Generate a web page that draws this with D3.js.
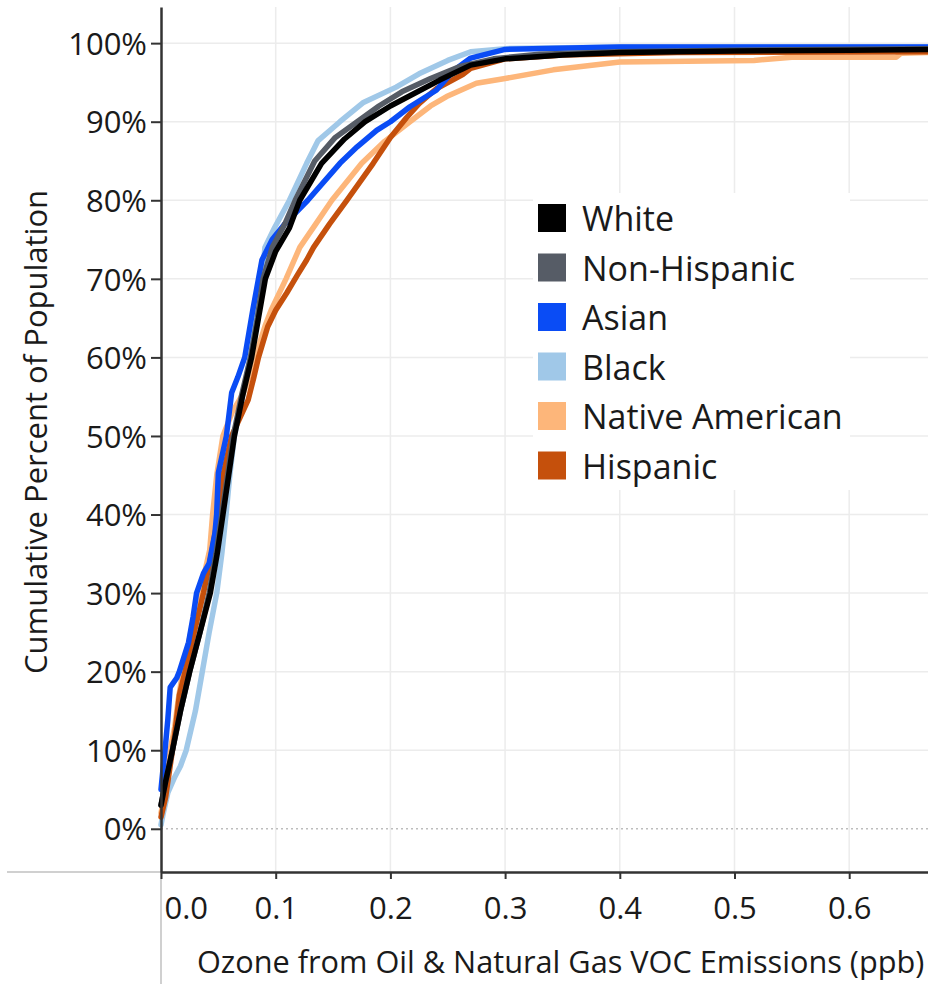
<!DOCTYPE html>
<html>
<head>
<meta charset="utf-8">
<script src="https://cdn.jsdelivr.net/npm/d3@7"></script>
<style>
    body { margin: 0; background: #fff; }
    svg { display: block; }
    text { font-family: "Open Sans", sans-serif; fill: #1a1a1a; }
</style>
</head>
<body>
<div id="chart"></div>
<script>
var width = 928;
var height = 984;
var margin = { top: 7, right: 0, bottom: 112, left: 161 };

// legend order and colours
var groups = ['White', 'Non-Hispanic', 'Asian', 'Black', 'Native American', 'Hispanic'];
var groupColors = ['#000000', '#565c66', '#0a4cf5', '#a0c8e8', '#fdb67a', '#c5500c'];
// order the lines are painted in (last on top)
var drawOrder = ['Black', 'Native American', 'Hispanic', 'Asian', 'Non-Hispanic', 'White'];

var xTicks = [0, 0.1, 0.2, 0.3, 0.4, 0.5, 0.6];
var yTicks = [0, 10, 20, 30, 40, 50, 60, 70, 80, 90, 100];

// [ozone ppb, cumulative percent]
var white = [[0, 3], [0.004, 6], [0.010, 10], [0.017, 15], [0.025, 20], [0.034, 25], [0.043, 30], [0.049, 35],
    [0.054, 40], [0.059, 45], [0.064, 50], [0.071, 55], [0.079, 60], [0.085, 65], [0.091, 70], [0.100, 73.5],
    [0.112, 76.5], [0.121, 80], [0.140, 84.7], [0.160, 87.8], [0.178, 90], [0.200, 92], [0.217, 93.3],
    [0.243, 95.3], [0.270, 97.2], [0.300, 98.0], [0.350, 98.5], [0.400, 98.8], [0.500, 99.0], [0.600, 99.1], [0.669, 99.2]];
var nonHispanic = [[0, 3], [0.004, 6], [0.010, 10], [0.017, 15], [0.025, 20], [0.034, 25], [0.042, 30], [0.048, 35],
    [0.053, 40], [0.058, 45], [0.063, 50], [0.070, 55], [0.078, 60], [0.084, 65], [0.089, 70], [0.097, 74],
    [0.108, 77], [0.117, 80], [0.134, 85], [0.152, 88], [0.171, 90], [0.190, 92], [0.210, 93.8], [0.235, 95.5],
    [0.260, 97.0], [0.290, 98.0], [0.330, 98.6], [0.400, 98.9], [0.500, 99.1], [0.669, 99.3]];
var asian = [[0, 5], [0.002, 8], [0.0035, 10], [0.006, 14], [0.008, 18], [0.0137, 19.2], [0.016, 20], [0.024, 23.7],
    [0.028, 27], [0.031, 30], [0.037, 32.5], [0.042, 33.8], [0.047, 37.6], [0.0485, 40], [0.050, 45.3], [0.057, 50],
    [0.0616, 55.5], [0.067, 57.5], [0.073, 60], [0.080, 66], [0.085, 70], [0.088, 72.4], [0.097, 75], [0.108, 77],
    [0.128, 80], [0.156, 84.7], [0.171, 86.8], [0.188, 88.9], [0.200, 90], [0.217, 91.9], [0.240, 94], [0.255, 96.5],
    [0.270, 98.1], [0.300, 99.2], [0.400, 99.5], [0.669, 99.5]];
var black = [[0, 0.5], [0.002, 2], [0.006, 4.6], [0.012, 6.6], [0.017, 8], [0.022, 10], [0.030, 15], [0.036, 20],
    [0.042, 25], [0.0486, 30], [0.053, 35], [0.0567, 40], [0.060, 45], [0.064, 50], [0.071, 55], [0.078, 60],
    [0.083, 65], [0.088, 70], [0.0906, 74], [0.099, 76.5], [0.112, 80], [0.127, 84.7], [0.137, 87.6], [0.156, 90],
    [0.176, 92.4], [0.205, 94.4], [0.225, 96.1], [0.250, 97.8], [0.270, 98.9], [0.300, 99.3], [0.400, 99.5], [0.669, 99.5]];
var nativeAmerican = [[0, 2], [0.004, 5], [0.008, 10], [0.012, 13], [0.015, 16.4], [0.019, 20], [0.026, 25], [0.034, 30],
    [0.0425, 35.5], [0.045, 40], [0.0486, 45], [0.054, 50], [0.062, 53], [0.072, 55.5], [0.082, 60], [0.0907, 64],
    [0.096, 66], [0.109, 70], [0.121, 74], [0.135, 77], [0.149, 80], [0.175, 84.7], [0.195, 87.5], [0.217, 90],
    [0.235, 92], [0.249, 93.2], [0.275, 94.9], [0.300, 95.5], [0.342, 96.6], [0.400, 97.6], [0.517, 97.8],
    [0.550, 98.2], [0.641, 98.2], [0.645, 98.7], [0.669, 98.8]];
var hispanic = [[0, 1.5], [0.004, 4], [0.008, 8], [0.012, 12], [0.016, 17], [0.021, 20], [0.029, 25], [0.037, 30],
    [0.044, 35], [0.050, 40], [0.054, 45], [0.0616, 50], [0.076, 54.6], [0.081, 57.5], [0.085, 60], [0.093, 63.9],
    [0.100, 66], [0.1096, 68.2], [0.119, 70.5], [0.127, 72.4], [0.133, 74], [0.147, 77], [0.162, 80], [0.185, 84.7],
    [0.200, 88], [0.214, 90.5], [0.225, 92.3], [0.240, 94.2], [0.263, 96], [0.270, 96.8], [0.300, 98], [0.350, 98.5],
    [0.450, 98.8], [0.669, 98.9]];

var seriesByGroup = {
    'White': white,
    'Non-Hispanic': nonHispanic,
    'Asian': asian,
    'Black': black,
    'Native American': nativeAmerican,
    'Hispanic': hispanic
};

var color = d3.scaleOrdinal().domain(groups).range(groupColors);

var x = d3.scaleLinear()
    .domain([0, 0.6687])
    .range([margin.left, width - margin.right]);
var y = d3.scaleLinear()
    .domain([-5.5, 104.6])
    .range([height - margin.bottom, margin.top]);

var svg = d3.select('#chart')
    .append('svg')
    .attr('width', width)
    .attr('height', height);

var plotBottom = height - margin.bottom;

// grid
svg.append('g')
    .selectAll('line')
    .data(yTicks.filter(function (d) { return d > 0; }))
    .join('line')
    .attr('x1', margin.left)
    .attr('x2', width)
    .attr('y1', function (d) { return y(d); })
    .attr('y2', function (d) { return y(d); })
    .attr('stroke', '#ececec')
    .attr('stroke-width', 1.5);

svg.append('g')
    .selectAll('line')
    .data(xTicks.filter(function (d) { return d > 0; }))
    .join('line')
    .attr('x1', function (d) { return x(d); })
    .attr('x2', function (d) { return x(d); })
    .attr('y1', margin.top)
    .attr('y2', plotBottom)
    .attr('stroke', '#ececec')
    .attr('stroke-width', 1.5);

// dotted zero line
svg.append('line')
    .attr('x1', margin.left)
    .attr('x2', width)
    .attr('y1', y(0))
    .attr('y2', y(0))
    .attr('stroke', '#bdbdbd')
    .attr('stroke-width', 1.5)
    .attr('stroke-dasharray', '2,3');

// light extensions of the axes outside the plot
svg.append('line')
    .attr('x1', 7).attr('x2', margin.left)
    .attr('y1', plotBottom).attr('y2', plotBottom)
    .attr('stroke', '#d0d0d0').attr('stroke-width', 2);
svg.append('line')
    .attr('x1', margin.left).attr('x2', margin.left)
    .attr('y1', plotBottom).attr('y2', height)
    .attr('stroke', '#d0d0d0').attr('stroke-width', 2);

// legend background (hides the grid)
var legendX = 538;
var legendY = 204;
var legendStep = 49.5;
svg.append('rect')
    .attr('x', legendX - 5)
    .attr('y', legendY - 11)
    .attr('width', 317)
    .attr('height', legendStep * groups.length)
    .attr('fill', '#fff');

// lines
var line = d3.line()
    .x(function (d) { return x(d[0]); })
    .y(function (d) { return y(d[1]); });

svg.append('g')
    .selectAll('path')
    .data(drawOrder)
    .join('path')
    .attr('d', function (g) { return line(seriesByGroup[g]); })
    .attr('fill', 'none')
    .attr('stroke', function (g) { return color(g); })
    .attr('stroke-width', 5.5)
    .attr('stroke-linejoin', 'round')
    .attr('stroke-linecap', 'round');

// axes
var yAxis = svg.append('g')
    .attr('transform', 'translate(' + margin.left + ',0)')
    .call(d3.axisLeft(y)
        .tickValues(yTicks)
        .tickFormat(function (d) { return d + '%'; })
        .tickSize(10)
        .tickSizeOuter(0)
        .tickPadding(4));

var xAxis = svg.append('g')
    .attr('transform', 'translate(0,' + plotBottom + ')')
    .call(d3.axisBottom(x)
        .tickValues(xTicks)
        .tickFormat(d3.format('.1f'))
        .tickSize(7)
        .tickSizeOuter(0)
        .tickPadding(18));

[yAxis, xAxis].forEach(function (ax) {
    ax.select('.domain').attr('stroke', '#333').attr('stroke-width', 2.5);
    ax.selectAll('.tick line').attr('stroke', '#333').attr('stroke-width', 2);
    ax.selectAll('.tick text')
        .style('font-family', '"Open Sans", sans-serif')
        .style('font-size', '31px')
        .attr('fill', '#1a1a1a');
});
yAxis.selectAll('.tick text').attr('dy', '0.36em');
// first x label sits to the right of the axis
xAxis.selectAll('.tick text')
    .filter(function (d) { return d === 0; })
    .attr('text-anchor', 'start')
    .attr('x', 3);

// axis titles
svg.append('text')
    .attr('x', 197)
    .attr('y', 973)
    .style('font-size', '30.7px')
    .text('Ozone from Oil & Natural Gas VOC Emissions (ppb)');

svg.append('text')
    .attr('transform', 'translate(47,432) rotate(-90)')
    .attr('text-anchor', 'middle')
    .style('font-size', '31px')
    .text('Cumulative Percent of Population');

// legend
var legend = svg.append('g')
    .selectAll('g')
    .data(groups)
    .join('g')
    .attr('transform', function (d, i) { return 'translate(' + legendX + ',' + (legendY + i * legendStep) + ')'; });

legend.append('rect')
    .attr('width', 28)
    .attr('height', 28)
    .attr('fill', function (d) { return color(d); });

legend.append('text')
    .attr('x', 44)
    .attr('y', 27)
    .style('font-size', '34px')
    .text(function (d) { return d; });
</script>
</body>
</html>
